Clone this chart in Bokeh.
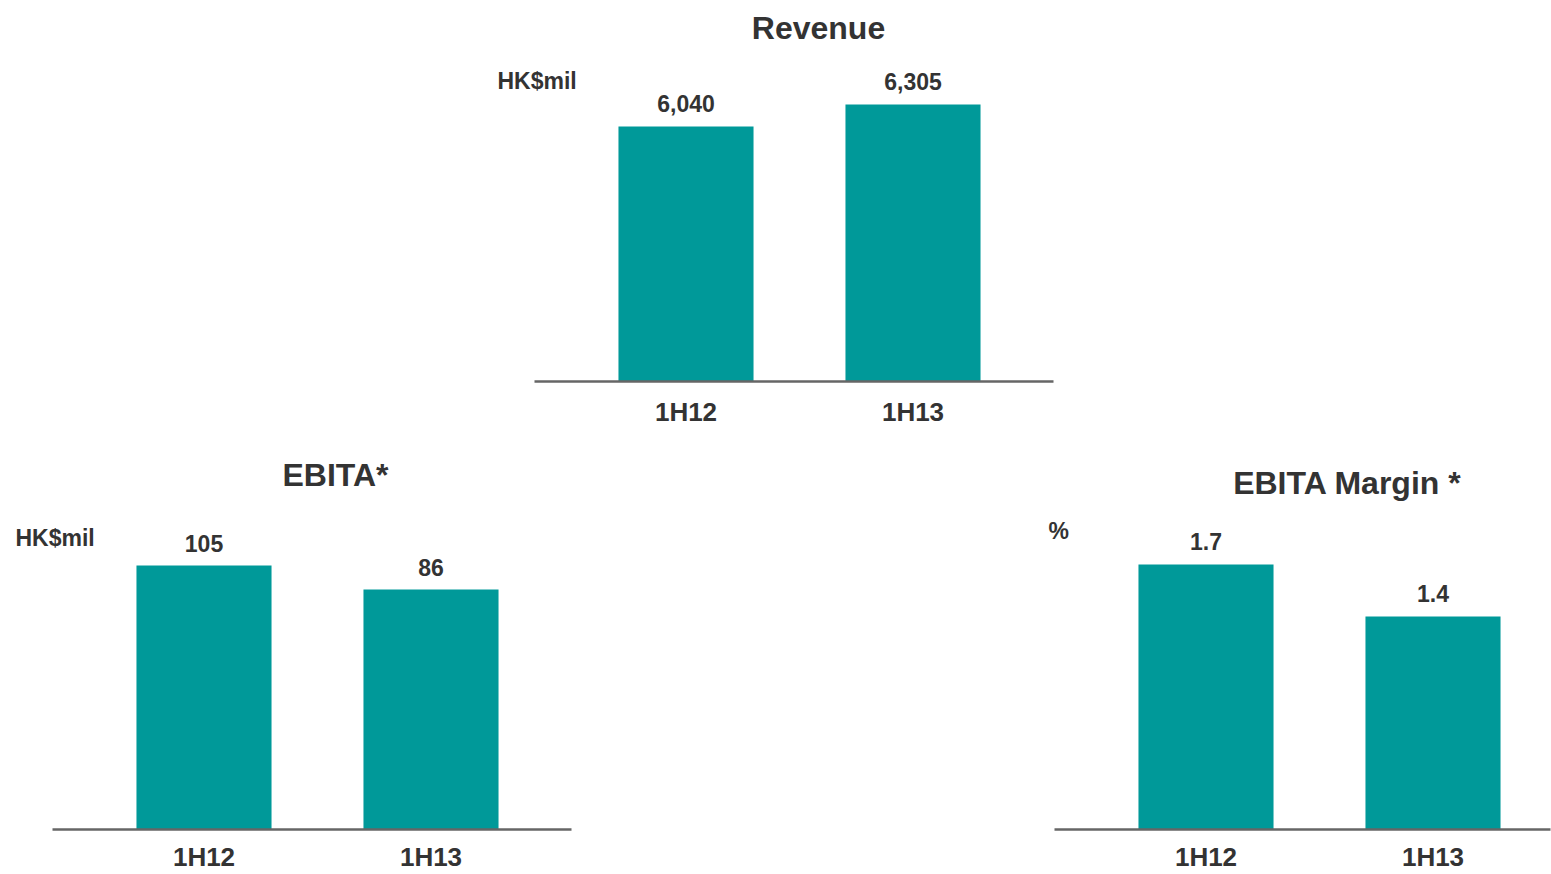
from bokeh.plotting import figure
from bokeh.models import Range1d, FixedTicker, ColumnDataSource, LabelSet, Spacer
from bokeh.core.properties import value
from bokeh.layouts import column, row
from bokeh.embed import file_html
from bokeh.resources import INLINE

# ---- data ----
categories = ["1H12", "1H13"]
revenue = [6040, 6305]
ebita = [105, 86]
ebita_margin = [1.7, 1.4]

TEAL = "#009999"
TEXT = "#333333"
LINE = "#666666"
FONT = "Liberation Sans"
PX_PER_CAT = 227.0


def make_chart(values, labels, title, unit, page_left, page_top, fig_w, fig_h, b_bottom,
               first_center_px, axis_px, y_start, px_per_val, title_px, unit_px, standoff):
    frame_h = fig_h - b_bottom
    xs = (page_left - first_center_px) / PX_PER_CAT
    xe = (page_left + fig_w - first_center_px) / PX_PER_CAT
    ye = y_start + frame_h / px_per_val
    p = figure(width=fig_w, height=fig_h, output_backend="svg", toolbar_location=None,
               x_range=Range1d(xs, xe), y_range=Range1d(y_start, ye),
               y_axis_location=None, title=None,
               min_border_left=0, min_border_right=0,
               min_border_top=0, min_border_bottom=b_bottom)
    p.outline_line_color = None
    p.grid.visible = False
    p.background_fill_color = None
    p.border_fill_color = None

    idx = list(range(len(categories)))
    src = ColumnDataSource(dict(x=idx, top=values, text=labels))
    p.vbar(x="x", top="top", bottom=y_start, width=0.595, source=src,
           fill_color=TEAL, line_color=None)

    ax = p.xaxis[0]
    ax.bounds = ((axis_px[0] - first_center_px) / PX_PER_CAT,
                 (axis_px[1] - first_center_px) / PX_PER_CAT)
    ax.ticker = FixedTicker(ticks=idx)
    ax.major_label_overrides = {i: c for i, c in zip(idx, categories)}
    ax.axis_line_color = LINE
    ax.axis_line_width = 2.5
    ax.major_tick_line_color = None
    ax.minor_tick_line_color = None
    ax.major_tick_out = 0
    ax.major_label_standoff = standoff
    ax.major_label_text_font = FONT
    ax.major_label_text_font_style = "bold"
    ax.major_label_text_font_size = "26px"
    ax.major_label_text_color = TEXT

    p.add_layout(LabelSet(x="x", y="top", text="text", source=src, y_offset=14,
                          text_align="center", text_baseline="alphabetic",
                          text_font=value(FONT), text_font_style="bold",
                          text_font_size="23px", text_color=TEXT))

    def dx(px):
        return (px - first_center_px) / PX_PER_CAT

    def dy(py):
        return ye - (py - page_top) / px_per_val

    title_src = ColumnDataSource(dict(x=[dx(title_px[0])], y=[dy(title_px[1])], text=[title]))
    p.add_layout(LabelSet(x="x", y="y", text="text", source=title_src,
                          text_align="center", text_baseline="alphabetic",
                          text_font=value(FONT), text_font_style="bold",
                          text_font_size="32px", text_color=TEXT))
    unit_src = ColumnDataSource(dict(x=[dx(unit_px[0])], y=[dy(unit_px[1])], text=[unit]))
    p.add_layout(LabelSet(x="x", y="y", text="text", source=unit_src,
                          text_align="left", text_baseline="alphabetic",
                          text_font=value(FONT), text_font_style="bold",
                          text_font_size="23px", text_color=TEXT))
    return p


rev_fig = make_chart(revenue, [f"{v:,}" for v in revenue], "Revenue", "HK$mil",
                     490, 0, 570, 438, 57,
                     685.5, (534, 1053), 2968.4, 22 / 265,
                     (818, 38), (497, 88), 15)

ebita_fig = make_chart(ebita, [f"{v:,}" for v in ebita], "EBITA*", "HK$mil",
                       0, 438, 600, 436, 45,
                       203.5, (52, 571), -104.0, 24 / 19,
                       (335, 485), (15, 545), 12)

margin_fig = make_chart(ebita_margin, [f"{v:.1f}" for v in ebita_margin], "EBITA Margin *", "%",
                        1000, 438, 551, 436, 45,
                        1205.5, (1054, 1550), 0.171, 52 / 0.3,
                        (1347, 493), (1048, 538), 12)

layout = column(
    row(Spacer(width=490, height=438), rev_fig),
    row(ebita_fig, Spacer(width=400, height=436), margin_fig),
)

open("out.html", "w").write(file_html(layout, INLINE))
